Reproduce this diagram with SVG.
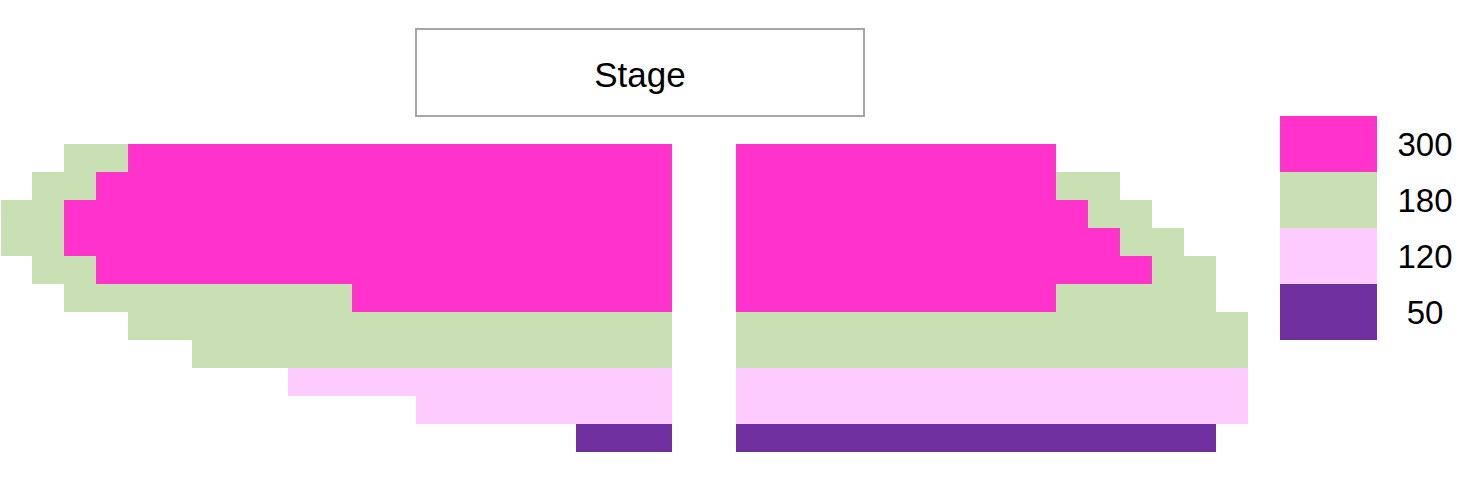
<svg xmlns="http://www.w3.org/2000/svg" width="1473" height="481" viewBox="0 0 1473 481">
<style>
.p{fill:#FF33CC}.g{fill:#C8E0B4}.l{fill:#FDCBFD}.v{fill:#7030A0}
.t{font-family:"Liberation Sans",Arial,sans-serif;fill:#000;text-anchor:middle}
</style>
<rect width="1473" height="481" fill="#fff"/>
<g id="stage">
<rect x="416" y="29" width="448" height="87" fill="#fff" stroke="#A6A6A6" stroke-width="2"/>
<text class="t" x="640" y="87" font-size="35">Stage</text>
</g>
<g id="left-section">
<rect class="g" x="64" y="144" width="64" height="28"/>
<rect class="p" x="128" y="144" width="544" height="28"/>
<rect class="g" x="32" y="172" width="64" height="28"/>
<rect class="p" x="96" y="172" width="576" height="28"/>
<rect class="g" x="1" y="200" width="63" height="56"/>
<rect class="p" x="64" y="200" width="608" height="56"/>
<rect class="g" x="32" y="256" width="64" height="28"/>
<rect class="p" x="96" y="256" width="576" height="28"/>
<rect class="g" x="64" y="284" width="288" height="28"/>
<rect class="p" x="352" y="284" width="320" height="28"/>
<rect class="g" x="128" y="312" width="544" height="28"/>
<rect class="g" x="192" y="340" width="480" height="28"/>
<rect class="l" x="288" y="368" width="384" height="28"/>
<rect class="l" x="416" y="396" width="256" height="28"/>
<rect class="v" x="576" y="424" width="96" height="28"/>
</g>
<g id="right-section">
<rect class="p" x="736" y="144" width="320" height="28"/>
<rect class="p" x="736" y="172" width="320" height="28"/>
<rect class="g" x="1056" y="172" width="64" height="28"/>
<rect class="p" x="736" y="200" width="352" height="28"/>
<rect class="g" x="1088" y="200" width="64" height="28"/>
<rect class="p" x="736" y="228" width="384" height="28"/>
<rect class="g" x="1120" y="228" width="64" height="28"/>
<rect class="p" x="736" y="256" width="416" height="28"/>
<rect class="g" x="1152" y="256" width="64" height="28"/>
<rect class="p" x="736" y="284" width="320" height="28"/>
<rect class="g" x="1056" y="284" width="160" height="28"/>
<rect class="g" x="736" y="312" width="512" height="56"/>
<rect class="l" x="736" y="368" width="512" height="56"/>
<rect class="v" x="736" y="424" width="480" height="28"/>
</g>
<g id="legend">
<rect class="p" x="1280" y="116" width="97" height="56"/>
<rect class="g" x="1280" y="172" width="97" height="56"/>
<rect class="l" x="1280" y="228" width="97" height="56"/>
<rect class="v" x="1280" y="284" width="97" height="56"/>
<text class="t" x="1425" y="156" font-size="33">300</text>
<text class="t" x="1425" y="212" font-size="33">180</text>
<text class="t" x="1425" y="268" font-size="33">120</text>
<text class="t" x="1425" y="324" font-size="33">50</text>
</g>
</svg>
